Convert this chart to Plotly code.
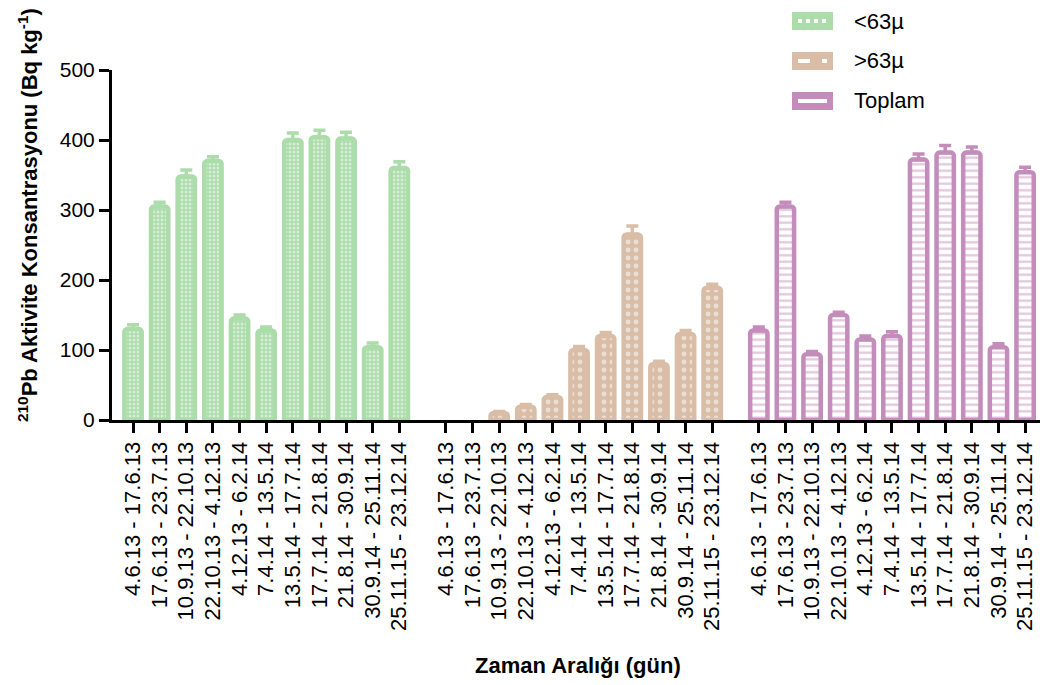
import plotly.graph_objects as go

# Sampling periods (same set for each fraction)
periods = [
    "4.6.13 - 17.6.13", "17.6.13 - 23.7.13", "10.9.13 - 22.10.13",
    "22.10.13 - 4.12.13", "4.12.13 - 6.2.14", "7.4.14 - 13.5.14",
    "13.5.14 - 17.7.14", "17.7.14 - 21.8.14", "21.8.14 - 30.9.14",
    "30.9.14 - 25.11.14", "25.11.15 - 23.12.14",
]

series_names = ["<63µ", ">63µ", "Toplam"]

# 210Pb activity concentration (Bq/kg) and upper error
fine_vals = [130, 305, 348, 370, 145, 128, 400, 404, 402, 104, 360]
fine_err = [6, 6, 9, 6, 5, 5, 10, 10, 9, 6, 9]

coarse_vals = [None, None, 10, 19, 33, 100, 120, 265, 80, 123, 189]
coarse_err = [0, 0, 2, 3, 3, 5, 5, 12, 4, 5, 5]

total_vals = [128, 305, 94, 150, 115, 120, 372, 382, 382, 104, 354]
total_err = [5, 6, 4, 4, 5, 6, 8, 10, 8, 5, 7]

colors = ["#abdcaa", "#d9bda6", "#c38cba"]

group_starts = [0.0, 11.75, 23.5]
n = len(periods)

fig = go.Figure()

styles = [
    dict(shape=".", bgcolor=colors[0], fgcolor="white", size=4, solidity=0.45),
    dict(shape=".", bgcolor=colors[1], fgcolor="white", size=8, solidity=0.3),
    dict(shape="-", bgcolor="white", fgcolor=colors[2], size=6.5, solidity=0.35),
]

all_vals = [fine_vals, coarse_vals, total_vals]
all_err = [fine_err, coarse_err, total_err]

tickvals = []
ticktext = []
for g, (vals, errs) in enumerate(zip(all_vals, all_err)):
    xs = [group_starts[g] + i for i in range(n)]
    tickvals += xs
    ticktext += periods
    fig.add_trace(go.Bar(
        x=xs, y=vals, name=series_names[g], showlegend=False,
        width=0.65,
        marker=dict(color=colors[g], line=dict(color=colors[g], width=4.5),
                    pattern=styles[g], cornerradius=3),
        error_y=dict(type="data", array=errs, arrayminus=[0] * n,
                     symmetric=False, color=colors[g], thickness=3.5, width=6),
    ))

# Legend drawn as swatches + labels
x0p, x1p = 112, 1040
y0p, y1p = 420, 70


def px_x(v):
    return (v - x0p) / (x1p - x0p)


def px_y(v):
    return (y0p - v) / (y0p - y1p)


legend_y = [21, 61, 101]
dashes = ["dot", "dash", "solid"]
for i, name in enumerate(series_names):
    cy = legend_y[i]
    fig.add_shape(type="rect", xref="paper", yref="paper",
                  x0=px_x(792), x1=px_x(833), y0=px_y(cy - 9), y1=px_y(cy + 9),
                  fillcolor=colors[i], line=dict(width=0))
    fig.add_shape(type="line", xref="paper", yref="paper",
                  x0=px_x(798), x1=px_x(827), y0=px_y(cy), y1=px_y(cy),
                  line=dict(color="white", width=4, dash=dashes[i]))
    fig.add_annotation(xref="paper", yref="paper", x=px_x(852), y=px_y(cy),
                       xanchor="left", yanchor="middle", showarrow=False,
                       text=name, font=dict(size=22, color="black"))

fig.add_annotation(xref="paper", yref="paper", x=px_x(28), y=px_y(215),
                   xanchor="center", yanchor="middle", showarrow=False,
                   textangle=-90,
                   text="<b><sup>210</sup>Pb Aktivite Konsantrasyonu (Bq kg<sup>-1</sup>)</b>",
                   font=dict(size=22, color="black"))

fig.add_annotation(xref="paper", yref="paper", x=px_x(578), y=px_y(665),
                   xanchor="center", yanchor="middle", showarrow=False,
                   text="<b>Zaman Aralığı (gün)</b>",
                   font=dict(size=22, color="black"))

fig.update_layout(
    width=1064, height=685,
    margin=dict(l=112, r=24, t=70, b=265),
    paper_bgcolor="white", plot_bgcolor="white",
    barmode="overlay",
    font=dict(family="Liberation Sans, Arial, sans-serif", size=21, color="black"),
    xaxis=dict(range=[-0.79, 34.06], tickvals=tickvals, ticktext=ticktext,
               tickangle=-90, showline=True, linecolor="black", linewidth=3,
               ticks="outside", ticklen=10, tickwidth=3, tickcolor="black",
               showgrid=False, zeroline=False, tickfont=dict(size=22)),
    yaxis=dict(range=[0, 500], tickvals=[0, 100, 200, 300, 400, 500],
               showline=True, linecolor="black", linewidth=3,
               ticks="outside", ticklen=10, tickwidth=3, tickcolor="black",
               showgrid=False, zeroline=False, tickfont=dict(size=21)),
)

fig.write_html("out.html")
